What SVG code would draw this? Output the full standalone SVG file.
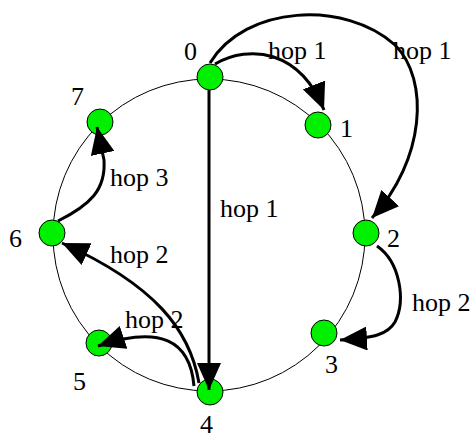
<svg xmlns="http://www.w3.org/2000/svg" width="472" height="439" viewBox="0 0 472 439" font-family="'Liberation Serif', 'DejaVu Serif', serif">
<style>
.ring{fill:none;stroke:#000;stroke-width:1}
.node{fill:#00f000;stroke:#000;stroke-width:1}
.edge{fill:none;stroke:#000;stroke-width:3}
.lbl{font-family:'Liberation Serif','DejaVu Serif',serif;font-size:26px;fill:#000}
</style>
<defs>
<marker id="arr" markerUnits="userSpaceOnUse" markerWidth="28" markerHeight="24" refX="27" refY="12" orient="auto" viewBox="0 0 28 24">
<path d="M0,0 L27,12 L0,24 Z" fill="#000"/>
</marker>
</defs>
<circle class="ring" cx="209" cy="235" r="156"/>
<g id="node0"><circle class="node" cx="210" cy="77" r="13"/><text class="lbl" x="184" y="60">0</text></g>
<g id="node1"><circle class="node" cx="318" cy="125" r="13"/><text class="lbl" x="340" y="137">1</text></g>
<g id="node2"><circle class="node" cx="366" cy="233" r="13"/><text class="lbl" x="387" y="247">2</text></g>
<g id="node3"><circle class="node" cx="324" cy="333" r="13"/><text class="lbl" x="325" y="373">3</text></g>
<g id="node4"><circle class="node" cx="210" cy="392" r="13"/><text class="lbl" x="200" y="433">4</text></g>
<g id="node5"><circle class="node" cx="99" cy="343" r="13"/><text class="lbl" x="73" y="390">5</text></g>
<g id="node6"><circle class="node" cx="52" cy="233" r="13"/><text class="lbl" x="9" y="247">6</text></g>
<g id="node7"><circle class="node" cx="100" cy="122" r="13"/><text class="lbl" x="71" y="105">7</text></g>
<g id="connectors">
<path class="edge" marker-end="url(#arr)" d="M215,64 C250,44 300,50 324,110"/>
<path class="edge" marker-end="url(#arr)" d="M210,63 C245,5 345,0 395,45 C430,80 425,160 372,218"/>
<path class="edge" marker-end="url(#arr)" d="M209,90 L209,390"/>
<path class="edge" marker-end="url(#arr)" d="M377,246 C400,262 406,300 395,322 C388,334 375,338 340,340"/>
<path class="edge" marker-end="url(#arr)" d="M58,221 C90,205 106,190 104,160 L97,127"/>
<path class="edge" marker-end="url(#arr)" d="M199,383 C190,330 155,285 62,243"/>
<path class="edge" marker-end="url(#arr)" d="M194,386 C190,340 160,325 98,346"/>
<text class="lbl" x="268" y="59">hop 1</text>
<text class="lbl" x="393" y="59">hop 1</text>
<text class="lbl" x="220" y="217">hop 1</text>
<text class="lbl" x="110" y="186">hop 3</text>
<text class="lbl" x="110" y="263">hop 2</text>
<text class="lbl" x="125" y="328">hop 2</text>
<text class="lbl" x="412" y="311">hop 2</text>
</g>
</svg>
